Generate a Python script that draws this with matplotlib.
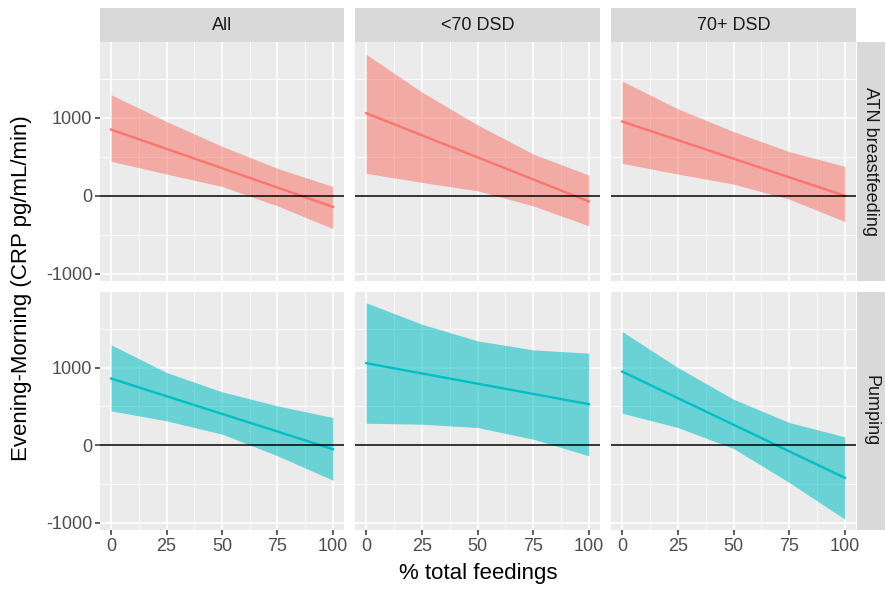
import matplotlib.pyplot as plt
import numpy as np

plt.rcParams['font.family'] = ['Liberation Sans', 'DejaVu Sans']
plt.rcParams['axes.unicode_minus'] = False

feed_pct = [0, 25, 50, 75, 100]
line_pct = [0, 100]

columns = ['All', '<70 DSD', '70+ DSD']
rows = ['ATN breastfeeding', 'Pumping']

# ATN breastfeeding row (All, <70 DSD, 70+ DSD)
atn_fit = [[850, -142], [1060, -73], [953, 0]]
atn_upper = [[1296, 953, 635, 352, 120],
             [1815, 1330, 910, 536, 266],
             [1472, 1116, 824, 567, 378]]
atn_lower = [[442, 279, 120, -129, -421],
             [288, 172, 64, -129, -386],
             [416, 279, 150, -43, -330]]

# Pumping row
pump_fit = [[858, -52], [1056, 528], [948, -421]]
pump_upper = [[1292, 936, 687, 506, 356],
              [1833, 1558, 1343, 1227, 1185],
              [1464, 1000, 592, 292, 107]]
pump_lower = [[442, 313, 142, -137, -451],
              [283, 270, 227, 77, -137],
              [412, 227, -43, -480, -953]]

x_ticks = [0, 25, 50, 75, 100]
y_ticks = [-1000, 0, 1000]

row_colors = ['#F8766D', '#00BFC4']
row_data = [(atn_fit, atn_upper, atn_lower), (pump_fit, pump_upper, pump_lower)]

W, H = 885, 589
fig = plt.figure(figsize=(W / 100, H / 100), dpi=100)

# pixel layout (left, top, right, bottom)
col_px = [(100, 344), (355, 600), (611, 856)]
row_px = [(42, 281), (292, 530)]

def to_fig(l, t, r, b):
    return [l / W, 1 - b / H, (r - l) / W, (b - t) / H]

# shared y range, ggplot style 5% expansion
all_vals = np.array(atn_upper + atn_lower + pump_upper + pump_lower).ravel()
ymin, ymax = all_vals.min(), all_vals.max()
pad = 0.05 * (ymax - ymin)
ylim = (ymin - pad, ymax + pad)
xlim = (-5, 105)

tick_col = '#4D4D4D'
for ri in range(2):
    fit, upper, lower = row_data[ri]
    for ci in range(3):
        l, r = col_px[ci]
        t, b = row_px[ri]
        ax = fig.add_axes(to_fig(l, t, r, b))
        ax.set_facecolor('#EBEBEB')
        for s in ax.spines.values():
            s.set_visible(False)
        ax.set_xlim(xlim)
        ax.set_ylim(ylim)
        ax.set_xticks(x_ticks)
        ax.set_yticks(y_ticks)
        ax.set_xticks([12.5, 37.5, 62.5, 87.5], minor=True)
        ax.set_yticks([-500, 500, 1500], minor=True)
        ax.grid(which='major', color='white', linewidth=1.2)
        ax.grid(which='minor', color='white', linewidth=0.6)
        ax.set_axisbelow(True)
        ax.tick_params(which='minor', length=0)
        ax.tick_params(which='major', length=3.5, width=1.1, color='#333333',
                       labelsize=13, labelcolor=tick_col, pad=2)
        if ci != 0:
            ax.tick_params(axis='y', length=0, labelleft=False)
        if ri == 0:
            ax.tick_params(axis='x', length=0, labelbottom=False)

        ax.fill_between(feed_pct, lower[ci], upper[ci], color=row_colors[ri],
                        alpha=0.55, linewidth=0, zorder=2)
        ax.plot(line_pct, fit[ci], color=row_colors[ri], linewidth=1.7, zorder=3)
        ax.axhline(0, color='black', linewidth=1.1, zorder=4)

        if ri == 0:
            sax = fig.add_axes(to_fig(l, 8, r, 42))
            sax.set_facecolor('#D9D9D9')
            sax.set_xticks([])
            sax.set_yticks([])
            for s in sax.spines.values():
                s.set_visible(False)
            sax.text(0.5, 0.5, columns[ci], ha='center', va='center',
                     fontsize=13, color='#1A1A1A', transform=sax.transAxes)

    t, b = row_px[ri]
    rax = fig.add_axes(to_fig(857, t, 885, b))
    rax.set_facecolor('#D9D9D9')
    rax.set_xticks([])
    rax.set_yticks([])
    for s in rax.spines.values():
        s.set_visible(False)
    rax.text(0.5, 0.5, rows[ri], ha='center', va='center', rotation=-90,
             fontsize=13, color='#1A1A1A', transform=rax.transAxes)

fig.text(478 / W, 1 - 574 / H, '% total feedings', ha='center', va='center',
         fontsize=16, color='black')
fig.text(22 / W, 1 - 288 / H, 'Evening-Morning (CRP pg/mL/min)', ha='center',
         va='center', rotation=90, fontsize=16, color='black')

fig.savefig('out.png', dpi=100, facecolor='white')
